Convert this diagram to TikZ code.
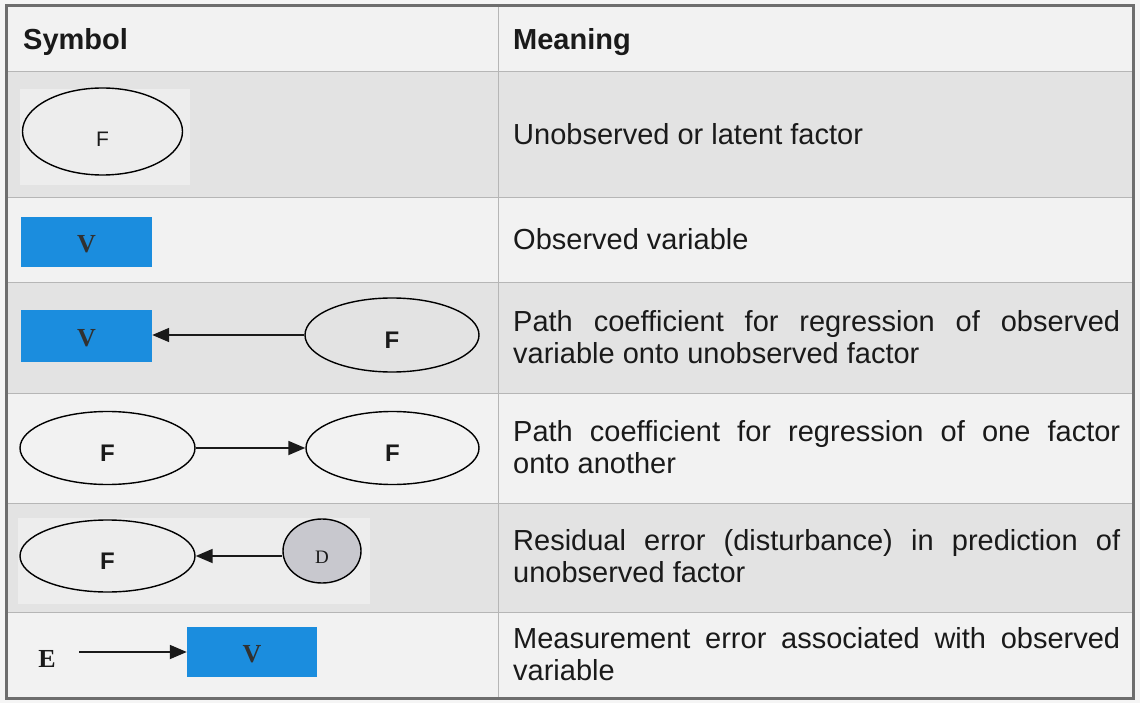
\documentclass[tikz,border=0pt]{standalone}
\usepackage{fontspec}
\setmainfont{Liberation Sans}
\newfontfamily\glyphserif{Liberation Serif}
\usetikzlibrary{arrows.meta,shapes.geometric}

\definecolor{pagebg}{HTML}{F5F5F5}
\definecolor{rowlight}{HTML}{F2F2F2}
\definecolor{rowdark}{HTML}{E3E3E3}
\definecolor{patchlight}{HTML}{EDEDED}
\definecolor{framegray}{HTML}{6E6E6E}
\definecolor{rulegray}{HTML}{B6B6B6}
\definecolor{obsblue}{HTML}{1B8DDE}
\definecolor{distgray}{HTML}{C8C8CE}
\definecolor{ink}{HTML}{1A1A1A}

% no hyphenation in the justified descriptions
\hyphenpenalty=10000
\exhyphenpenalty=10000
\tolerance=10000

\begin{document}
\begin{tikzpicture}[x=1pt,y=-1pt,
  latent/.style={ellipse,draw=black,line width=1.4pt,inner sep=0pt,
    minimum width=174pt,minimum height=73pt,text=ink,
    font=\bfseries\fontsize{24}{24}\selectfont,text height=27pt,text depth=0pt},
  observed/.style={rectangle,fill=obsblue,inner sep=0pt,
    minimum width=131pt,minimum height=50pt,text=ink!90,
    font=\glyphserif\bfseries\fontsize{26}{26}\selectfont,text height=21pt,text depth=0pt},
  disturbance/.style={ellipse,draw=black,fill=distgray,line width=1.4pt,inner sep=0pt,
    minimum width=78pt,minimum height=64pt,text=ink,
    font=\glyphserif\fontsize{19}{19}\selectfont,text height=25pt,text depth=0pt},
  link/.style={draw=ink,line width=1.8pt,-{Triangle[length=17pt,width=14pt]}},
  heading/.style={anchor=base west,inner sep=0pt,text=ink,
    font=\bfseries\fontsize{29}{32}\selectfont},
  meaning/.style={anchor=base west,inner sep=0pt,text width=607pt,align=justify,text=ink,
    font=\fontsize{29}{32}\selectfont},
  divider/.style={draw=rulegray,line width=1pt}]

\useasboundingbox (0,0) rectangle (1140,703);

% page and row shading
\fill[pagebg] (0,0) rectangle (1140,703);
\fill[rowlight] (6,6) rectangle (1133,698);
\fill[rowdark] (6,72) rectangle (1133,198);
\fill[rowdark] (6,283) rectangle (1133,393);
\fill[rowdark] (6,503) rectangle (1133,612);
\fill[patchlight] (20,89) rectangle (190,185);
\fill[patchlight] (18,518) rectangle (370,604);

% table rules
\foreach \yy in {72,198,283,393,503,612}
  \draw[divider] (6,\yy) -- (1133,\yy);
\draw[divider] (498,6) -- (498,698);
\draw[framegray,line width=3pt] (6,6) rectangle (1133,698);

% header
\node[heading] (hsym) at (23,50) {Symbol};
\node[heading] (hmean) at (513,50) {Meaning};

% row 1: latent factor
\node[latent,minimum width=160pt,minimum height=87pt,
  font=\fontsize{21}{21}\selectfont,text height=31pt] (f1) at (102.5,131.5) {F};

% row 2: observed variable
\node[observed] (v2) at (86.5,242) {V};

% row 3: loading of observed variable on factor
\node[observed,minimum height=52pt] (v3) at (86.5,336) {V};
\node[latent,minimum width=174pt,minimum height=74pt] (f3) at (392,335) {F};
\draw[link] (f3.west) -- (f3.west -| v3.east);

% row 4: factor to factor
\node[latent,minimum width=175pt] (f4a) at (107.5,448) {F};
\node[latent,minimum width=173pt] (f4b) at (392.5,448) {F};
\draw[link] (f4a.east) -- (f4b.west);

% row 5: disturbance
\node[latent,minimum width=175pt,minimum height=72pt] (f5) at (107.5,556) {F};
\node[disturbance] (d5) at (322,551) {D};
\draw[link] (f5.east -| d5.west) -- (f5.east);

% row 6: measurement error
\node[inner sep=0pt,text=ink,font=\glyphserif\bfseries\fontsize{26}{26}\selectfont] (e6) at (47,659) {E};
\node[observed,minimum width=130pt] (v6) at (252,652) {V};
\coordinate (e6tail) at (79,652);
\draw[link] (e6tail) -- (v6.west);

% meanings
\node[meaning] (m1) at (513,145) {Unobserved or latent factor};
\node[meaning] (m2) at (513,250) {Observed variable};
\node[meaning] (m3) at (513,331) {Path coefficient for regression of observed\linebreak variable onto unobserved factor};
\node[meaning] (m4) at (513,441) {Path coefficient for regression of one factor\linebreak onto another};
\node[meaning] (m5) at (513,550) {Residual error (disturbance) in prediction of\linebreak unobserved factor};
\node[meaning] (m6) at (513,648) {Measurement error associated with observed\linebreak variable};

\end{tikzpicture}
\end{document}
